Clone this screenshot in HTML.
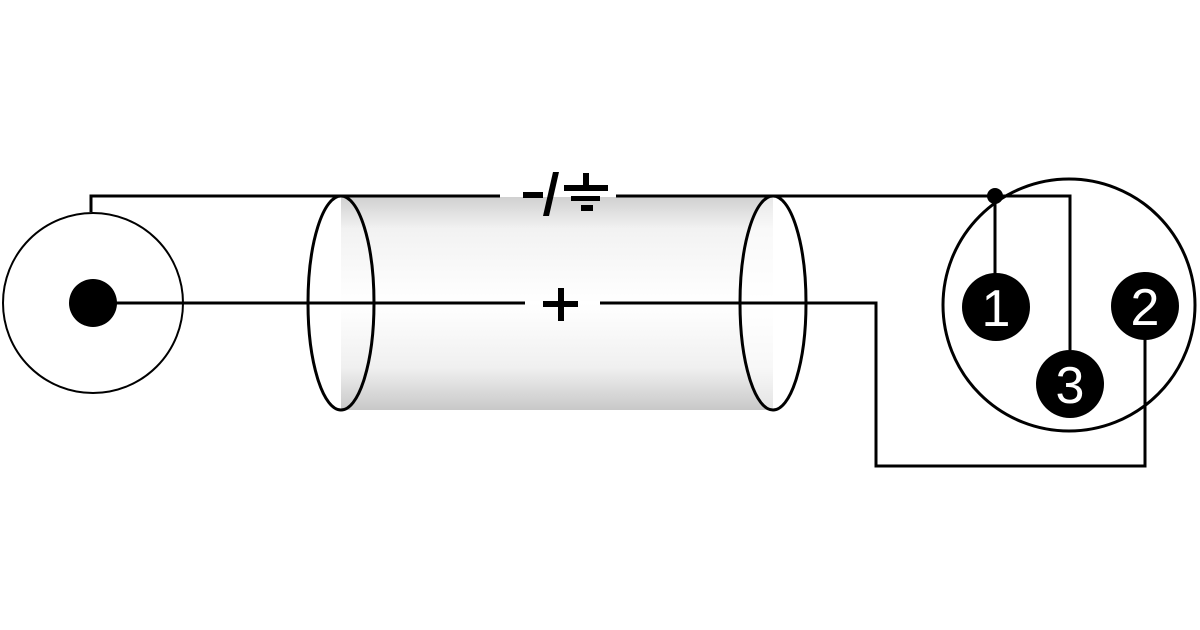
<!DOCTYPE html>
<html><head><style>html,body{margin:0;padding:0;background:#fff;}svg{display:block}</style></head><body>
<svg width="1200" height="630" viewBox="0 0 1200 630" xmlns="http://www.w3.org/2000/svg">
<defs>
<linearGradient id="g" x1="0" y1="0" x2="0" y2="1">
<stop offset="0" stop-color="#d0d0d0"/>
<stop offset="0.15" stop-color="#f2f2f2"/>
<stop offset="0.5" stop-color="#ffffff"/>
<stop offset="0.8" stop-color="#f0f0f0"/>
<stop offset="1" stop-color="#c8c8c8"/>
</linearGradient>
</defs>
<rect x="341" y="197" width="432" height="213" fill="url(#g)"/>
<ellipse cx="773" cy="303" rx="33" ry="107" fill="#fff" opacity="0.5"/>
<g fill="none" stroke="#000" stroke-width="3">
<circle cx="93" cy="303" r="90" stroke-width="2"/>
<polyline points="91,212 91,196 500,196"/>
<line x1="616" y1="196" x2="990" y2="196"/>
<polyline points="995,196 1070,196 1070,350"/>
<line x1="995" y1="196" x2="995" y2="275"/>
<line x1="93" y1="303" x2="525" y2="303"/>
<polyline points="600,303 876,303 876,466 1145,466 1145,335"/>
<ellipse cx="341" cy="303" rx="33" ry="107"/>
<ellipse cx="773" cy="303" rx="33" ry="107"/>
<circle cx="1069" cy="305" r="126"/>
</g>
<circle cx="93" cy="303" r="24" fill="#000"/>
<circle cx="995" cy="196" r="8" fill="#000"/>
<circle cx="996" cy="307" r="34" fill="#000"/>
<circle cx="1145" cy="306" r="34" fill="#000"/>
<circle cx="1070" cy="384" r="34" fill="#000"/>
<g font-family="Liberation Sans, sans-serif" font-size="52" fill="#fff" text-anchor="middle">
<text x="996" y="326">1</text>
<text x="1145" y="325">2</text>
<text x="1070" y="403">3</text>
</g>
<g fill="#000">
<rect x="523" y="192" width="20" height="6"/>
<polygon points="553,172 559,172 549,216 543,216"/>
<rect x="583" y="173" width="6" height="14"/>
<rect x="564" y="185" width="44" height="6"/>
<rect x="571" y="196" width="29" height="5"/>
<rect x="581" y="205" width="12" height="6"/>
<rect x="543" y="301" width="35" height="6"/>
<rect x="558" y="288" width="6" height="33"/>
</g>
</svg>
</body></html>
